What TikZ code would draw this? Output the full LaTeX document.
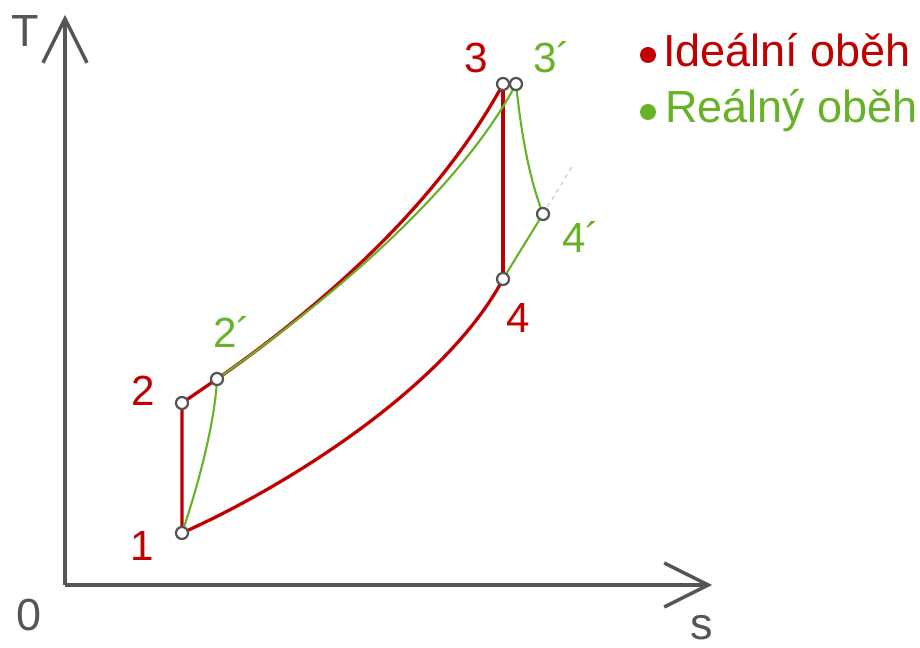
\documentclass[tikz,border=0pt]{standalone}
\usepackage{fontspec}
\setmainfont{Liberation Sans}
\usetikzlibrary{arrows.meta}
\definecolor{ideal}{RGB}{192,0,0}
\definecolor{real}{RGB}{104,178,40}
\definecolor{axisgray}{RGB}{85,85,85}

\begin{document}
\begin{tikzpicture}[
  x=0.025cm, y=-0.025cm,
  axis/.style={draw=axisgray, line width=2.4pt,
    -{Straight Barb[length=1.1cm, width=1.1cm]}},
  idealline/.style={draw=ideal, line width=2.3pt},
  realline/.style={draw=real, line width=1.5pt},
  extline/.style={draw=gray!55, line width=0.6pt, dashed},
  pt/.style={circle, draw=axisgray, fill=white, line width=1.6pt,
    inner sep=0pt, minimum size=0.3cm},
  legdot/.style={circle, inner sep=0pt, minimum size=0.4cm},
  lbl/.style={font=\fontsize{30}{30}\selectfont, anchor=base, inner sep=0pt},
  axlbl/.style={font=\fontsize{32}{32}\selectfont, text=axisgray,
    anchor=base, inner sep=0pt},
  legend/.style={font=\fontsize{32}{32}\selectfont, anchor=base west,
    inner sep=0pt}
]
\useasboundingbox (0,0) rectangle (920,648);

% axes
\coordinate (O) at (65,585);
\coordinate (Tend) at (65,15);
\coordinate (send) at (712,585);
\draw[axis] (O) -- (Tend);
\draw[axis] (O) -- (send);
\node[axlbl] (T) at (25,47) {T};
\node[axlbl] (zero) at (29,630) {0};
\node[axlbl] (s) at (702,639) {s};

% cycle states
\coordinate (p1) at (182,533);
\coordinate (p2) at (182,403);
\coordinate (p2r) at (217,379);
\coordinate (p3) at (503,84);
\coordinate (p3r) at (516,84);
\coordinate (p4) at (503,279);
\coordinate (p4r) at (543,214);
\coordinate (ext) at (573,165);

% ideal cycle
\draw[idealline] (p1) -- (p2) -- (p2r);
\draw[idealline] (p2r) .. controls (330,300) and (440,200) .. (p3);
\draw[idealline] (p3) -- (p4);
\draw[idealline] (p1) .. controls (300,480) and (450,380) .. (p4);

% real cycle
\draw[realline] (p1) .. controls (200,480) and (215,420) .. (p2r);
\draw[realline] (p2r) .. controls (330,300) and (460,190) .. (p3r);
\draw[realline] (p3r) .. controls (522,140) and (530,180) .. (p4r);
\draw[realline] (p4r) -- (p4);
\draw[extline] (p4r) -- (ext);

% state markers
\foreach \p in {p1,p2,p2r,p3,p3r,p4,p4r}
  \node[pt] at (\p) {};

% state labels
\node[lbl, text=ideal] (l1) at (142,560) {1};
\node[lbl, text=ideal] (l2) at (143,405) {2};
\node[lbl, text=real] (l2r) at (232,348) {2´};
\node[lbl, text=ideal] (l3) at (476,73) {3};
\node[lbl, text=real] (l3r) at (552,73) {3´};
\node[lbl, text=ideal] (l4) at (518,333) {4};
\node[lbl, text=real] (l4r) at (581,253) {4´};

% legend
\node[legdot, fill=ideal] (dotI) at (648,55) {};
\node[legend, text=ideal] (legI) at (663,67) {Ideální oběh};
\node[legdot, fill=real] (dotR) at (648,112) {};
\node[legend, text=real] (legR) at (665,123) {Reálný oběh};
\end{tikzpicture}
\end{document}
